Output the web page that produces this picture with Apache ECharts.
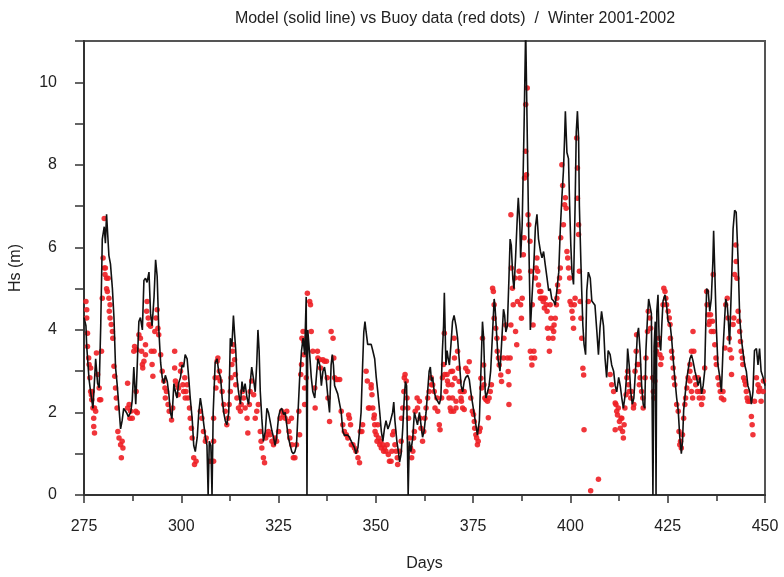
<!DOCTYPE html>
<html>
<head>
<meta charset="utf-8">
<title>Model vs Buoy data</title>
<script src="https://cdn.jsdelivr.net/npm/echarts@6/dist/echarts.min.js"></script>
<style>
  html, body { margin: 0; padding: 0; background: #fff; }
  #chart { width: 784px; height: 577px; }
</style>
</head>
<body>
<div id="chart"></div>
<script>
// axis ranges
var dayRange = [275, 450];
var hsRange = [0, 11];

// model Hs (solid line) as [day, Hs]; the 0 values are the model gaps
var modelPoints = [
  [275.0,4.3],[275.5,4.1],[275.7,3.6],[276.3,2.8],[276.7,2.5],[277.3,2.1],[278.0,3.3],[278.5,2.7],[278.9,2.6],
  [279.3,4.1],[279.7,6.2],[280.2,6.5],[280.5,6.1],[280.8,6.8],[281.1,6.3],[281.4,5.8],[281.8,5.6],[282.3,5.0],
  [282.7,4.3],[283.1,3.1],[283.5,2.7],[284.0,2.1],[284.4,1.6],[284.8,1.8],[285.2,2.1],[285.9,2.0],[286.4,1.9],
  [287.0,2.0],[287.4,2.3],[287.8,3.1],[288.3,2.2],[288.7,3.2],[289.1,4.2],[289.5,4.3],[290.0,4.0],[290.4,5.2],
  [290.8,5.25],[291.2,5.15],[291.7,5.4],[292.1,4.4],[292.5,4.1],[293.0,4.8],[293.4,5.7],[293.8,5.3],[294.2,4.05],
  [294.7,3.2],[295.1,2.85],[295.5,2.7],[295.9,2.9],[296.4,2.75],[296.8,2.45],[297.2,2.0],[297.6,1.85],[298.1,2.7],
  [298.5,2.5],[298.9,2.35],[299.3,2.7],[299.8,2.85],[300.2,3.15],[300.6,3.1],[301.0,3.4],[301.5,3.3],[301.9,2.85],
  [302.3,2.35],[302.8,1.85],[303.2,1.2],[303.6,1.05],[304.1,1.4],[304.5,2.0],[304.9,2.35],[305.3,2.1],[305.8,1.7],
  [306.2,1.4],[306.6,1.2],[306.9,0],[307.2,1.3],[307.6,1.2],[307.9,0],[308.2,2.0],[308.7,3.2],[309.2,3.3],
  [309.6,3.0],[310.1,2.85],[310.5,2.35],[310.9,2.0],[311.3,1.8],[311.7,1.7],[312.2,2.0],[312.6,3.8],[313.0,3.6],
  [313.4,4.35],[313.7,3.9],[314.0,3.5],[314.3,2.85],[314.7,2.5],[315.2,2.2],[315.6,2.75],[316.0,2.5],[316.4,2.7],
  [316.9,2.35],[317.3,2.2],[317.7,2.7],[318.1,3.1],[318.5,2.85],[319.0,2.5],[319.4,3.2],[319.7,4.0],[320.0,3.5],
  [320.3,2.5],[320.7,1.85],[321.1,1.3],[321.6,1.55],[322.0,2.1],[322.4,2.0],[322.8,1.8],[323.3,1.55],[323.7,1.4],
  [324.1,1.2],[324.5,1.4],[325.0,1.9],[325.4,2.05],[325.8,2.1],[326.3,1.95],[326.7,2.0],[327.1,1.7],[327.5,1.4],
  [328.0,1.2],[328.4,1.05],[328.8,1.0],[329.2,1.05],[329.6,1.2],[330.0,2.0],[330.4,2.8],[330.9,3.5],[331.3,3.8],
  [331.7,3.4],[332.1,4.8],[332.3,0],[332.5,4.0],[333.0,3.4],[333.4,2.85],[333.8,2.5],[334.3,2.35],[334.7,2.85],
  [335.1,3.3],[335.6,3.15],[336.0,2.65],[336.4,3.0],[336.8,3.1],[337.2,2.85],[337.7,2.35],[338.1,2.0],[338.5,3.15],
  [338.8,3.4],[339.1,3.15],[339.4,2.65],[340.2,2.45],[341.1,2.0],[341.5,1.55],[341.9,1.45],[342.8,1.45],[343.2,1.4],
  [343.7,1.3],[344.5,1.15],[344.9,1.0],[345.4,1.15],[345.8,1.55],[346.2,2.0],[346.6,3.15],[346.9,3.95],[347.2,4.2],
  [347.5,3.95],[347.9,3.65],[348.8,3.65],[349.2,3.5],[349.7,3.3],[350.1,2.85],[350.5,2.5],[351.0,2.0],[351.4,1.55],
  [351.8,1.3],[352.2,1.6],[352.6,1.8],[353.1,1.6],[353.5,1.7],[353.9,1.7],[354.3,2.0],[354.6,2.25],[354.9,1.8],
  [355.4,1.3],[355.8,1.05],[356.1,0.8],[356.5,1.0],[356.9,1.6],[357.3,2.35],[357.6,2.75],[357.9,2.65],[358.3,0],
  [358.6,1.3],[359.0,1.05],[359.5,1.4],[359.9,2.0],[360.3,1.85],[360.7,1.7],[361.2,2.0],[361.6,1.7],[362.0,1.4],
  [362.4,1.55],[362.9,2.0],[363.3,2.5],[363.7,3.0],[364.0,3.1],[364.3,2.75],[364.6,2.85],[365.0,2.5],[365.4,2.35],
  [365.9,2.35],[366.3,2.2],[366.7,2.35],[367.1,3.5],[367.4,4.1],[367.6,4.9],[368.0,3.15],[368.3,3.5],[368.6,3.3],
  [368.9,3.15],[369.3,3.65],[369.7,4.2],[370.1,4.35],[370.6,4.1],[371.0,3.8],[371.4,3.3],[371.9,2.65],[372.3,2.5],
  [372.7,2.75],[373.1,2.85],[373.6,2.9],[374.0,2.8],[374.4,2.5],[374.8,2.25],[375.3,1.95],[375.7,1.7],[376.1,1.45],
  [376.6,1.8],[377.0,3.0],[377.4,4.2],[377.7,3.8],[378.1,2.5],[378.3,2.35],[378.7,2.5],[379.1,2.65],[379.5,3.0],
  [380.0,3.95],[380.4,4.75],[380.6,4.6],[381.1,3.8],[381.4,3.3],[381.9,3.0],[382.3,3.65],[382.8,4.5],[383.1,4.35],
  [383.4,3.95],[383.8,4.1],[384.2,5.25],[384.5,6.2],[384.8,6.05],[385.2,5.25],[385.5,5.0],[385.9,5.75],[386.4,6.85],
  [386.6,7.2],[387.0,6.55],[387.2,5.75],[387.6,6.55],[388.1,9.0],[388.5,11.3],[388.8,11.3],[389.3,6.2],[389.7,4.0],
  [390.1,4.75],[390.6,5.6],[391.0,6.5],[391.4,6.8],[391.8,6.2],[392.3,5.9],[392.7,5.75],[393.1,5.9],[393.5,5.6],
  [394.0,5.25],[394.4,4.95],[394.8,5.0],[395.2,4.75],[395.7,4.7],[396.1,4.6],[396.5,4.95],[397.0,5.4],[397.4,6.45],
  [397.8,7.2],[398.2,7.85],[398.5,8.65],[398.7,9.3],[399.1,8.3],[399.5,8.15],[399.8,7.0],[400.1,6.05],[400.4,5.4],
  [400.8,5.1],[401.2,7.0],[401.5,8.8],[401.8,9.3],[402.1,8.65],[402.3,7.0],[402.7,5.6],[402.9,4.95],[403.2,4.1],
  [403.5,3.65],[403.9,3.4],[404.2,4.95],[404.6,5.4],[405.1,5.25],[405.5,4.7],[405.9,4.7],[406.3,4.6],[406.8,3.95],
  [407.2,3.4],[407.6,4.05],[408.0,4.45],[408.5,4.1],[408.9,3.3],[409.3,2.85],[409.7,3.5],[410.2,3.4],[410.6,3.15],
  [411.1,3.0],[411.5,2.65],[411.9,2.5],[412.4,2.85],[412.8,2.65],[413.2,2.35],[413.6,2.1],[414.1,2.45],[414.5,3.0],
  [414.7,3.55],[415.1,3.15],[415.5,2.5],[415.9,2.2],[416.3,2.35],[416.8,3.15],[417.2,3.9],[417.5,4.05],[417.9,3.5],
  [418.3,2.65],[418.7,2.2],[419.1,2.1],[419.4,3.5],[419.8,4.3],[420.1,4.75],[420.4,4.6],[420.8,4.4],[421.2,0],
  [421.5,3.6],[421.8,4.2],[422.0,0],[422.2,4.45],[422.5,4.85],[422.8,3.8],[423.2,3.5],[423.5,4.15],[423.8,4.7],
  [424.3,4.85],[424.7,4.6],[425.1,4.2],[425.6,4.15],[426.0,3.8],[426.4,3.3],[426.8,2.85],[427.3,2.35],[427.7,2.05],
  [428.1,1.4],[428.5,1.0],[428.8,1.3],[429.1,2.05],[429.5,2.45],[429.8,2.75],[430.2,3.0],[430.7,3.3],[431.1,3.4],
  [431.5,3.25],[432.0,3.0],[432.4,2.85],[432.8,2.65],[433.3,2.85],[433.7,2.45],[434.1,2.65],[434.5,3.0],[435.0,5.0],
  [435.4,4.95],[435.8,4.45],[436.2,4.75],[436.6,5.65],[436.8,6.4],[437.1,5.4],[437.5,4.05],[437.9,3.15],[438.4,2.85],
  [438.8,2.5],[439.2,3.5],[439.6,3.5],[439.9,4.75],[440.3,4.6],[440.6,4.2],[440.9,3.65],[441.4,5.15],[441.8,6.45],
  [442.2,6.9],[442.6,6.85],[443.1,5.65],[443.5,4.3],[443.9,3.8],[444.3,3.5],[444.8,3.15],[445.2,3.0],[445.6,2.65],
  [446.1,2.5],[446.5,2.2],[446.9,2.5],[447.3,3.5],[447.8,3.55],[448.2,3.15],[448.6,3.55],[449.0,3.0],[449.5,2.85],
  [450.0,2.65]
];

// buoy measurements (red dots) as [day, Hs]
var buoyPoints = [
  [275.5,4.69],[275.7,4.49],[275.7,4.29],[275.9,3.92],[275.9,3.6],[276.2,3.32],[276.3,3.16],[276.5,2.84],[276.7,3.08],
  [276.7,2.51],[276.9,2.43],[277.0,2.31],[277.1,2.51],[277.3,2.11],[277.5,1.86],[277.5,1.66],[277.7,1.5],[277.7,2.11],
  [278.0,2.03],[278.2,3.44],[278.5,2.92],[278.9,2.59],[279.0,2.31],[279.3,2.31],[279.5,3.48],[279.7,4.77],[279.9,5.74],
  [280.2,6.7],[280.2,5.5],[280.4,5.34],[280.5,5.5],[280.8,5.25],[280.8,5.0],[281.0,4.93],[281.2,5.25],[281.4,4.77],
  [281.5,4.45],[281.7,4.61],[281.7,4.29],[282.0,4.13],[282.3,3.96],[282.4,3.8],[282.7,3.12],[282.9,2.88],[283.1,2.59],
  [283.3,2.35],[283.5,2.11],[283.7,1.54],[284.0,1.38],[284.4,1.22],[284.6,0.9],[284.8,1.3],[285.0,1.14],[286.2,2.71],
  [286.2,2.11],[286.6,2.19],[286.8,1.86],[287.0,2.03],[287.4,1.86],[287.8,3.48],[288.0,3.6],[288.3,2.03],[288.4,2.51],
  [288.6,3.52],[288.7,1.99],[289.1,3.88],[289.5,3.8],[289.8,3.48],[290.0,3.16],[290.1,3.08],[290.4,3.24],[290.8,3.64],
  [290.8,3.40],[291.1,4.45],[291.2,4.69],[291.5,4.29],[291.7,4.13],[292.1,4.09],[292.3,3.48],[292.5,3.16],[292.7,2.88],
  [293.0,3.48],[293.2,3.96],[293.5,4.29],[293.8,4.49],[294.0,4.04],[294.2,3.88],[294.7,3.40],[295.1,3.0],[295.5,2.76],
  [295.8,2.59],[295.9,2.35],[296.2,2.51],[296.6,2.19],[296.9,2.03],[297.5,1.82],[297.8,2.11],[298.3,3.48],[298.3,3.08],
  [298.5,2.76],[298.9,2.67],[299.2,2.43],[299.3,2.59],[299.8,3.0],[300.0,3.16],[300.4,2.67],[300.6,2.51],[300.9,2.84],
  [301.0,2.35],[301.2,2.51],[301.5,2.67],[301.7,2.35],[302.1,2.11],[302.3,1.86],[302.6,1.62],[302.8,1.38],[303.2,0.9],
  [303.4,0.74],[303.8,0.82],[304.9,2.03],[305.3,1.86],[305.7,1.54],[306.2,1.3],[306.4,1.38],[307.4,0.82],[308.3,1.86],
  [308.3,1.3],[308.3,0.82],[308.7,2.84],[308.9,2.59],[309.2,3.24],[309.4,3.32],[309.6,2.84],[309.8,3.0],[310.0,2.76],
  [310.5,2.51],[310.9,2.19],[311.3,2.03],[311.7,1.7],[312.0,1.86],[312.3,2.19],[312.6,2.51],[312.8,2.84],[313.0,3.16],
  [313.2,3.48],[313.4,3.64],[313.7,3.28],[313.9,2.92],[314.0,2.67],[314.3,2.35],[314.7,2.11],[315.2,2.03],[315.4,2.19],
  [315.7,2.51],[316.0,2.35],[316.4,2.11],[316.9,1.86],[317.1,1.5],[317.5,2.19],[317.7,2.51],[318.1,2.76],[318.6,2.43],
  [319.0,1.86],[319.4,2.03],[319.8,2.19],[320.3,1.54],[320.5,1.3],[320.7,1.14],[321.1,0.9],[321.4,0.78],[321.7,1.38],
  [322.0,1.46],[322.4,1.54],[322.8,1.46],[323.3,1.3],[323.7,1.22],[324.1,1.38],[324.5,1.3],[325.0,1.54],[325.4,1.86],
  [325.8,2.03],[326.2,1.94],[326.7,1.86],[327.1,2.03],[327.5,1.78],[327.7,1.54],[327.9,1.38],[328.3,1.86],[328.4,1.22],
  [328.8,0.9],[329.2,0.9],[329.6,1.22],[330.2,2.03],[330.4,1.46],[330.7,2.92],[330.9,3.16],[331.0,3.8],[331.3,3.96],
  [331.5,3.72],[331.5,3.40],[331.7,2.59],[331.7,2.19],[332.1,2.84],[332.4,4.89],[333.0,4.69],[333.2,4.61],[333.4,3.96],
  [333.8,3.48],[334.3,2.59],[334.4,2.11],[335.0,3.48],[335.1,3.32],[335.6,3.28],[335.8,3.08],[336.4,3.28],[336.8,3.24],
  [337.3,3.24],[337.5,2.84],[337.7,2.35],[338.1,1.78],[338.5,3.96],[339.0,3.8],[339.2,3.32],[339.4,2.84],[339.8,2.8],
  [340.2,2.8],[340.7,2.8],[341.1,2.03],[341.5,1.7],[341.9,1.54],[342.4,1.46],[342.8,1.38],[343.0,1.94],[343.2,1.86],
  [343.5,1.7],[343.7,1.22],[344.1,1.22],[344.5,1.14],[344.9,1.06],[345.4,0.9],[345.8,0.78],[346.0,1.54],[346.4,1.54],
  [346.6,1.7],[347.5,3.0],[347.8,2.76],[348.1,2.11],[348.4,2.11],[348.8,2.59],[348.8,2.67],[349.0,2.43],[349.2,2.11],
  [349.5,1.86],[349.6,1.94],[349.7,1.7],[349.8,1.54],[350.1,1.46],[350.3,1.3],[350.5,1.7],[350.7,1.38],[351.0,1.22],
  [351.2,1.3],[351.4,1.14],[351.8,1.22],[352.0,1.06],[352.2,1.14],[352.6,1.06],[352.9,1.22],[353.2,0.98],[353.5,0.82],
  [353.9,0.82],[354.1,1.06],[354.3,1.46],[354.6,1.54],[354.9,1.22],[355.2,1.06],[355.5,0.9],[355.6,0.74],[356.1,1.06],
  [356.5,1.3],[356.6,1.86],[356.9,2.11],[357.2,2.51],[357.3,2.84],[357.5,2.92],[357.8,2.76],[358.0,2.35],[358.2,2.11],
  [358.4,1.86],[358.6,1.38],[358.9,1.14],[359.2,0.9],[359.5,1.06],[359.7,1.38],[359.9,1.54],[360.1,2.03],[360.6,2.35],
  [360.7,2.11],[361.2,2.27],[361.4,1.86],[361.6,1.62],[362.0,1.3],[362.3,1.54],[362.6,1.86],[362.9,2.11],[363.3,2.35],
  [363.7,2.51],[364.2,2.84],[364.3,2.67],[364.6,2.67],[365.0,2.51],[365.2,2.11],[365.7,2.35],[365.9,2.03],[366.3,1.7],
  [366.5,1.58],[366.9,2.35],[367.1,2.84],[367.4,3.16],[367.6,3.92],[367.7,2.92],[368.0,2.51],[368.3,2.92],[368.4,2.76],
  [368.6,2.67],[368.8,2.35],[369.1,2.11],[369.3,2.03],[369.3,2.99],[369.6,2.67],[369.7,3.0],[369.7,2.35],[370.0,2.03],
  [370.1,3.8],[370.2,3.32],[370.3,2.83],[370.6,2.11],[370.6,2.27],[371.0,3.48],[371.2,3.07],[371.4,2.75],[371.7,2.51],
  [371.9,2.35],[372.0,2.27],[372.3,2.51],[372.3,2.11],[372.7,2.51],[372.7,2.07],[373.1,3.07],[373.6,2.99],[374.0,3.23],
  [374.4,2.35],[374.8,2.03],[375.1,1.95],[375.3,1.78],[375.4,1.62],[375.7,1.46],[375.9,1.38],[376.1,1.22],[376.3,1.3],
  [376.6,1.54],[376.8,1.62],[377.0,2.83],[377.2,2.59],[377.4,3.8],[377.7,3.15],[377.8,2.67],[378.0,2.35],[378.3,2.31],
  [378.7,2.27],[378.9,1.87],[379.1,2.35],[379.4,2.51],[379.7,2.67],[380.0,5.01],[380.2,4.93],[380.4,4.61],[380.4,4.28],
  [380.8,4.04],[381.1,3.8],[381.2,3.48],[381.5,3.32],[381.7,3.15],[382.1,2.91],[382.3,2.75],[382.8,3.32],[382.9,3.8],
  [383.4,4.12],[383.8,3.32],[384.0,2.99],[384.2,2.67],[384.2,2.19],[384.5,3.32],[384.7,4.12],[384.7,6.79],[384.8,5.5],
  [385.1,5.01],[385.3,4.61],[385.7,5.26],[385.9,3.96],[386.2,3.64],[386.4,4.69],[386.8,5.42],[387.0,5.26],[387.2,4.61],
  [387.4,4.28],[387.6,4.77],[387.9,5.82],[388.1,6.23],[388.2,7.68],[388.5,8.33],[388.5,9.46],[388.7,7.76],[388.9,9.86],
  [389.1,6.79],[389.3,6.55],[389.6,6.15],[389.7,3.48],[389.8,5.42],[390.0,3.32],[390.1,3.15],[390.2,4.61],[390.4,4.12],
  [390.6,3.48],[390.8,3.32],[391.0,5.26],[391.2,5.5],[391.4,5.74],[391.6,5.42],[391.8,5.09],[392.1,4.93],[392.3,4.77],
  [392.4,4.93],[392.7,4.77],[393.0,4.69],[393.1,4.77],[393.3,4.53],[393.5,4.77],[393.8,4.61],[394.0,4.45],[394.1,4.04],
  [394.4,3.8],[394.6,3.48],[394.8,4.61],[395.0,4.28],[395.2,4.04],[395.5,3.8],[395.7,3.96],[395.8,4.12],[396.1,4.28],
  [396.4,4.61],[396.5,4.77],[396.7,5.09],[397.0,4.93],[397.2,5.26],[397.4,5.5],[397.5,6.23],[397.8,8.0],[398.0,7.5],
  [398.2,6.55],[398.5,7.03],[398.7,7.2],[398.9,6.95],[399.1,5.9],[399.3,5.74],[399.5,5.5],[399.8,5.26],[399.9,4.69],
  [400.2,4.61],[400.4,4.45],[400.6,4.28],[400.8,4.04],[401.0,4.61],[401.2,4.77],[401.6,8.65],[401.8,7.92],[401.8,7.19],
  [402.1,6.55],[402.1,6.31],[402.3,5.42],[402.5,4.69],[402.7,4.28],[402.9,3.8],[403.2,3.07],[403.4,2.91],[403.5,1.58],
  [404.6,4.69],[405.2,0.1],[407.2,0.38],[410.2,2.92],[410.6,2.67],[411.1,2.51],[411.5,2.23],[411.5,1.58],[411.7,2.19],
  [411.9,2.03],[412.1,1.94],[412.3,2.11],[412.6,1.78],[412.8,1.62],[413.0,1.86],[413.2,1.86],[413.4,1.54],[413.6,1.38],
  [413.8,1.7],[414.0,2.11],[414.3,2.43],[414.5,2.84],[414.7,3.0],[414.9,2.67],[415.1,2.51],[415.5,2.35],[415.7,2.51],
  [416.2,2.11],[416.3,2.19],[416.6,3.0],[416.9,3.48],[417.0,3.88],[417.2,3.16],[417.5,3.16],[417.7,2.67],[417.9,2.84],
  [418.3,2.51],[418.6,2.35],[418.7,2.11],[419.2,2.84],[419.4,3.32],[419.8,3.96],[420.0,4.45],[420.4,4.29],[420.6,4.04],
  [421.1,2.84],[421.3,2.51],[421.5,2.35],[421.7,2.76],[422.1,3.48],[422.6,3.64],[422.8,3.8],[423.0,3.40],[423.2,3.16],
  [423.4,3.32],[423.8,4.61],[424.0,5.01],[424.3,4.93],[424.5,4.77],[424.7,4.61],[425.1,4.45],[425.4,4.29],[425.6,4.13],
  [425.7,3.8],[426.0,3.48],[426.2,3.32],[426.4,3.08],[426.6,2.84],[426.8,2.67],[427.3,2.19],[427.7,2.03],[427.9,1.54],
  [428.1,1.22],[428.3,1.3],[428.5,1.14],[428.8,1.46],[429.1,1.86],[429.4,2.19],[429.6,2.35],[429.9,2.59],[430.2,2.84],
  [430.7,3.16],[430.7,3.0],[430.7,2.76],[431.1,3.48],[431.1,2.51],[431.4,2.35],[431.5,3.96],[431.7,3.48],[432.0,2.84],
  [432.2,2.67],[432.6,2.51],[432.8,2.84],[433.1,2.35],[433.3,2.51],[433.7,2.19],[434.0,2.35],[434.1,2.51],[434.5,3.08],
  [435.0,4.93],[435.1,4.61],[435.4,4.37],[435.6,4.13],[435.8,4.21],[436.0,4.37],[436.2,3.96],[436.5,4.21],[436.7,5.34],
  [436.8,3.96],[437.1,3.64],[437.4,3.32],[437.5,3.16],[437.9,2.84],[438.2,2.67],[438.5,2.51],[438.8,2.35],[439.2,2.51],
  [439.4,2.31],[439.7,3.56],[439.9,4.61],[440.3,4.77],[440.5,4.29],[440.8,3.8],[441.0,3.52],[441.4,3.32],[441.4,2.92],
  [441.8,4.13],[442.0,4.29],[442.2,5.34],[442.5,6.06],[442.6,5.66],[442.8,5.25],[443.1,4.45],[443.3,4.21],[443.5,3.96],
  [443.7,3.72],[443.9,3.48],[444.2,3.32],[444.3,3.16],[444.5,2.84],[444.8,2.76],[445.0,2.67],[445.2,2.51],[445.4,2.35],
  [445.6,2.27],[446.1,2.27],[446.5,1.9],[446.7,1.7],[446.9,1.46],[447.3,2.27],[447.8,2.84],[448.2,2.67],[448.4,2.51],
  [448.6,2.59],[449.0,2.27],[449.5,2.51],[449.6,2.76]
];

var chart = echarts.init(document.getElementById('chart'));

var labelFont = {
  color: '#222',
  fontSize: 16,
  fontFamily: 'Liberation Sans, Arial, sans-serif'
};

var option = {
  animation: false,
  backgroundColor: '#fff',
  title: {
    text: 'Model (solid line) vs Buoy data (red dots)  /  Winter 2001-2002',
    left: 450,
    top: 6,
    textAlign: 'center',
    textStyle: {
      color: '#222',
      fontSize: 16,
      fontWeight: 'normal',
      fontFamily: 'Liberation Sans, Arial, sans-serif'
    }
  },
  grid: {
    left: 81,
    right: 19,
    top: 41,
    bottom: 80,
    show: true,
    borderColor: '#555',
    borderWidth: 2,
    backgroundColor: '#fff'
  },
  xAxis: {
    type: 'value',
    min: dayRange[0],
    max: dayRange[1],
    interval: 25,
    name: 'Days',
    nameLocation: 'middle',
    nameGap: 61,
    nameTextStyle: labelFont,
    axisLine: { lineStyle: { color: '#333', width: 2 } },
    axisTick: { length: 8, lineStyle: { color: '#333', width: 1.5 } },
    minorTick: { show: true, splitNumber: 2, length: 6, lineStyle: { color: '#333', width: 1.5 } },
    axisLabel: Object.assign({ margin: 24 }, labelFont),
    splitLine: { show: false }
  },
  yAxis: {
    type: 'value',
    min: hsRange[0],
    max: hsRange[1],
    interval: 1,
    name: 'Hs (m)',
    nameLocation: 'middle',
    nameGap: 60,
    nameTextStyle: labelFont,
    axisLine: { lineStyle: { color: '#333', width: 2 } },
    axisTick: { length: 9, lineStyle: { color: '#333', width: 1.5 } },
    axisLabel: Object.assign({
      margin: 27,
      formatter: function (v) { return (v % 2 === 0 && v < 11) ? String(v) : ''; }
    }, labelFont),
    splitLine: { show: false }
  },
  series: [
    {
      name: 'Buoy',
      type: 'scatter',
      data: buoyPoints,
      symbol: 'circle',
      symbolSize: 5.5,
      itemStyle: { color: '#ee1f25', opacity: 0.9 },
      z: 2
    },
    {
      name: 'Model',
      type: 'line',
      data: modelPoints,
      showSymbol: false,
      lineStyle: { color: '#111', width: 1.6 },
      clip: true,
      z: 3
    }
  ]
};

chart.setOption(option);
</script>
</body>
</html>
